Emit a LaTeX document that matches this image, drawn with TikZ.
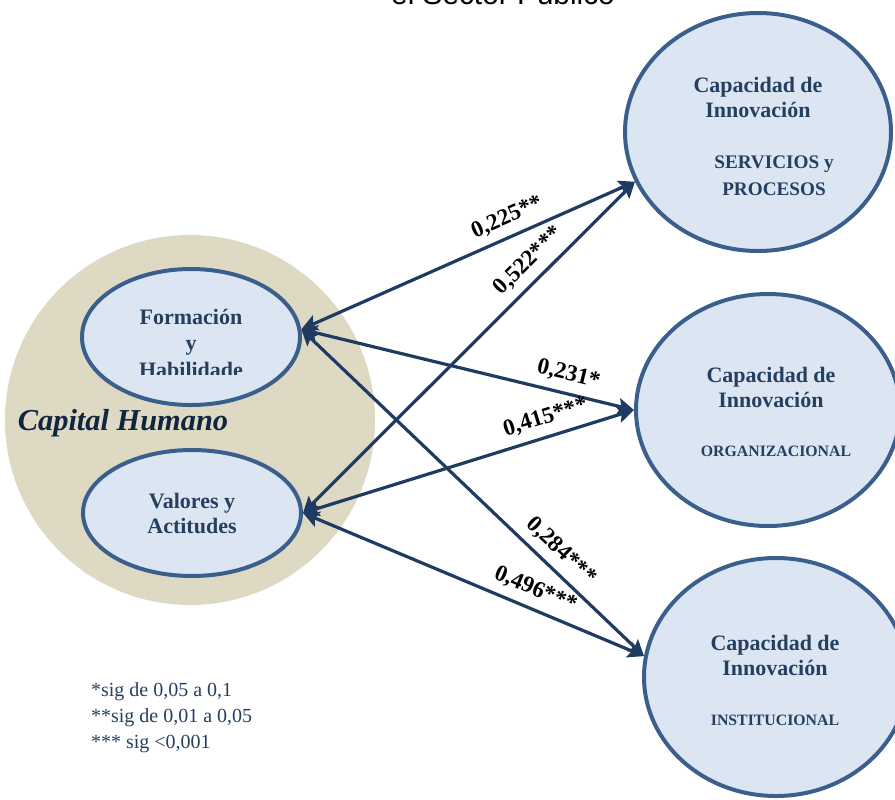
\documentclass[tikz,border=0pt]{standalone}
\usepackage{fontspec}
\setmainfont{Liberation Serif}
\newfontfamily\titlefont{Liberation Sans}
\usetikzlibrary{arrows.meta,shapes.geometric}
\definecolor{beige}{HTML}{DDD9C3}
\definecolor{paleblue}{HTML}{DCE6F2}
\definecolor{rimblue}{HTML}{3A5F8D}
\definecolor{navy}{HTML}{243F60}
\definecolor{arrownavy}{HTML}{1F3B62}
\definecolor{darknavy}{HTML}{10253F}
\tikzstyle{elip}=[ellipse,draw=rimblue,fill=paleblue,line width=2pt,inner sep=0pt]
\tikzstyle{captxt}=[text=navy,font=\bfseries\fontsize{11}{12.5}\selectfont,align=center]
\tikzstyle{capsub}=[text=navy,font=\bfseries\fontsize{9.6}{13.5}\selectfont,align=center]
\tikzstyle{capsmall}=[text=navy,font=\bfseries\fontsize{7.9}{10}\selectfont,align=center]
\tikzstyle{coef}=[sloped,above,inner sep=4pt,text=black,font=\bfseries\fontsize{11.6}{12}\selectfont]
\tikzset{dbl/.style={{Stealth[length=8pt,width=8pt,inset=1.5pt]}-{Stealth[length=8pt,width=8pt,inset=1.5pt]},draw=arrownavy,line width=1.6pt}}
\begin{document}
\begin{tikzpicture}[x=0.5pt,y=-0.5pt]
\useasboundingbox (0,0) rectangle (895,799);
\clip (0,0) rectangle (895,799);
\node[font=\titlefont\fontsize{14.9}{16}\selectfont,anchor=base] (T) at (503,4) {el Sector Público};
% capital humano
\node[circle,fill=beige,minimum size=185pt,inner sep=0pt] (CH) at (190,420) {};
\node[elip,minimum width=109pt,minimum height=68pt] (form) at (191,337) {};
\node[elip,minimum width=109pt,minimum height=63pt,captxt] (val) at (192,513) {Valores y\\Actitudes};
\begin{scope}
\clip (80,260) rectangle (302,374);
\node[captxt,font=\bfseries\fontsize{11}{13.25}\selectfont] (formtxt) at (191,343) {Formación\\y\\Habilidade};
\end{scope}
\node[text=darknavy,font=\bfseries\itshape\fontsize{15.2}{17}\selectfont] (CHtxt) at (123,423) {Capital Humano};
% capacidades
\node[elip,minimum width=133pt,minimum height=119pt] (cs) at (758,132) {};
\node[elip,minimum width=132pt,minimum height=116pt] (co) at (768,410) {};
\node[elip,minimum width=132pt,minimum height=119pt] (ci) at (776,677) {};
\node[captxt] (cs1) at (758,97) {Capacidad de\\Innovación};
\node[capsub] (cs2) at (774,176) {SERVICIOS y\\PROCESOS};
\node[captxt] (co1) at (771,387) {Capacidad de\\Innovación};
\node[capsmall] (co2) at (776,451) {ORGANIZACIONAL};
\node[captxt] (ci1) at (775,655) {Capacidad de\\Innovación};
\node[capsmall] (ci2) at (775,720) {INSTITUCIONAL};
\draw[dbl] (form.4) -- node[coef,pos=0.64]{0,225**} (cs.202);
\draw[dbl] (val.east) -- node[coef,pos=0.72]{0,522***} (cs.202);
\draw[dbl] (form.4) -- node[coef,pos=0.79]{0,231*} (co.west);
\draw[dbl] (val.east) -- node[coef,pos=0.75]{0,415***} (co.west);
\draw[dbl] (form.4) -- node[coef,pos=0.72]{0,284***} (ci.171);
\draw[dbl] (val.east) -- node[coef,pos=0.66]{0,496***} (ci.171);
% leyenda
\node[text=navy,font=\fontsize{10}{13}\selectfont,align=left,anchor=west] (ley) at (84,718) {*sig de 0,05 a 0,1\\**sig de 0,01 a 0,05\\*** sig <0,001};
\end{tikzpicture}
\end{document}
